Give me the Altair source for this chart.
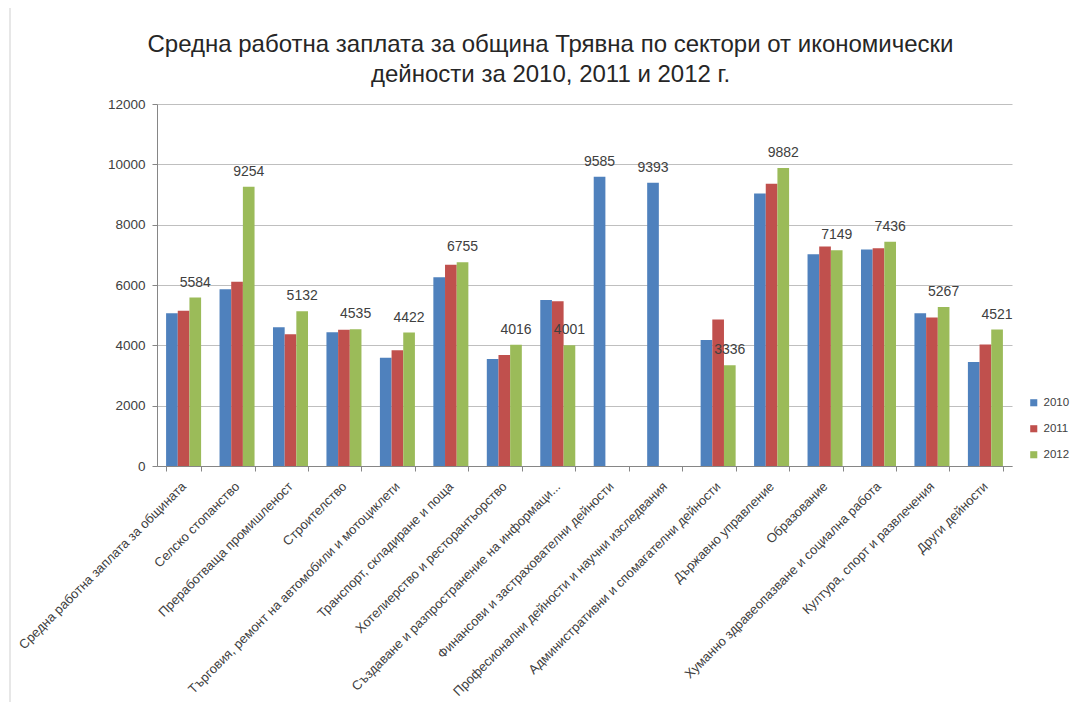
import altair as alt
import pandas as pd

categories = [
    "Средна работна заплата за общината",
    "Селско стопанство",
    "Преработваща промишленост",
    "Строителство",
    "Търговия, ремонт на автомобили и мотоциклети",
    "Транспорт, складиране и поща",
    "Хотелиерство и ресторантьорство",
    "Създаване и разпространение на информаци...",
    "Финансови и застрахователни дейности",
    "Професионални дейности и научни изследвания",
    "Административни и спомагателни дейности",
    "Държавно управление",
    "Образование",
    "Хуманно здравеопазване и социална работа",
    "Култура, спорт и развлечения",
    "Други дейности",
]
years = ["2010", "2011", "2012"]
v2010 = [5060, 5860, 4600, 4430, 3590, 6260, 3550, 5500, 9585, 9393, 4180, 9030, 7020, 7180, 5060, 3450]
v2011 = [5150, 6110, 4370, 4520, 3840, 6670, 3680, 5460, None, None, 4860, 9360, 7280, 7220, 4920, 4030]
v2012 = [5584, 9254, 5132, 4535, 4422, 6755, 4016, 4001, None, None, 3336, 9882, 7149, 7436, 5267, 4521]
colors = ["#4F81BD", "#C0504D", "#9BBB59"]
y_ticks = [0, 2000, 4000, 6000, 8000, 10000, 12000]

title_lines = [
    "Средна работна заплата за община Трявна по сектори от икономически",
    "дейности за 2010, 2011 и 2012 г.",
]

rows = []
for i, c in enumerate(categories):
    for yr, vals in zip(years, [v2010, v2011, v2012]):
        if vals[i] is not None:
            rows.append({"cat": c, "year": yr, "value": vals[i]})
df = pd.DataFrame(rows)

lab_rows = []
for i, c in enumerate(categories):
    if v2012[i] is not None:
        lab_rows.append({"cat": c, "year": "2012", "value": v2012[i]})
    else:
        lab_rows.append({"cat": c, "year": "2010", "value": v2010[i]})
labels = pd.DataFrame(lab_rows)

FONT = "Liberation Sans"
GRAY = "#404040"

x_enc = alt.X(
    "cat:N",
    sort=categories,
    scale=alt.Scale(paddingInner=0.345, paddingOuter=0.17),
    axis=alt.Axis(
        title=None,
        labelAngle=-45,
        labelAlign="right",
        labelBaseline="middle",
        labelFontSize=13,
        labelColor=GRAY,
        labelLimit=400,
        labelPadding=13,
        tickBand="extent",
        tickSize=5,
        tickColor="#868686",
        domainColor="#868686",
        grid=False,
    ),
)
xoff = alt.XOffset("year:N", scale=alt.Scale(domain=years, paddingInner=0, paddingOuter=0))
y_enc = alt.Y(
    "value:Q",
    scale=alt.Scale(domain=[0, 12000]),
    axis=alt.Axis(
        values=y_ticks,
        format="d",
        title=None,
        gridColor="#bfbfbf",
        domainColor="#868686",
        tickColor="#868686",
        labelFontSize=13.5,
        labelColor=GRAY,
        tickSize=5,
        labelPadding=7,
    ),
)

bars = alt.Chart(df).mark_bar().encode(
    x=x_enc,
    xOffset=xoff,
    y=y_enc,
    color=alt.Color(
        "year:N",
        scale=alt.Scale(domain=years, range=colors),
        legend=alt.Legend(
            title=None,
            orient="none",
            legendX=871,
            legendY=293,
            symbolType="square",
            symbolSize=50,
            symbolStrokeWidth=0,
            labelFontSize=11.5,
            labelColor=GRAY,
            rowPadding=13,
        ),
    ),
)

text = alt.Chart(labels).mark_text(
    dy=-8, baseline="bottom", fontSize=14, color=GRAY, font=FONT
).encode(
    x=alt.X("cat:N", sort=categories),
    xOffset=xoff,
    y=alt.Y("value:Q"),
    text=alt.Text("value:Q", format="d"),
)

# light frame line on the chart's left edge, as in the reference
border = alt.Chart(pd.DataFrame({"a": [0]})).mark_rule(color="#cfcfcf").encode(
    x=alt.value(-147), y=alt.value(-96), y2=alt.value(606)
)

chart = (
    alt.layer(bars, text, border)
    .properties(
        width=855,
        height=362,
        autosize=alt.AutoSizeParams(type="none"),
        padding={"left": 149, "top": 96, "right": 58, "bottom": 236},
        title=alt.TitleParams(
            text=title_lines,
            fontSize=24,
            font=FONT,
            fontWeight="normal",
            color="#262626",
            lineHeight=30,
            offset=-79,
            dx=-34,
            anchor="middle",
        ),
    )
    .configure(font=FONT)
    .configure_view(strokeOpacity=0)
)

chart.save("out.html", embed_options={"renderer": "svg", "actions": False})
